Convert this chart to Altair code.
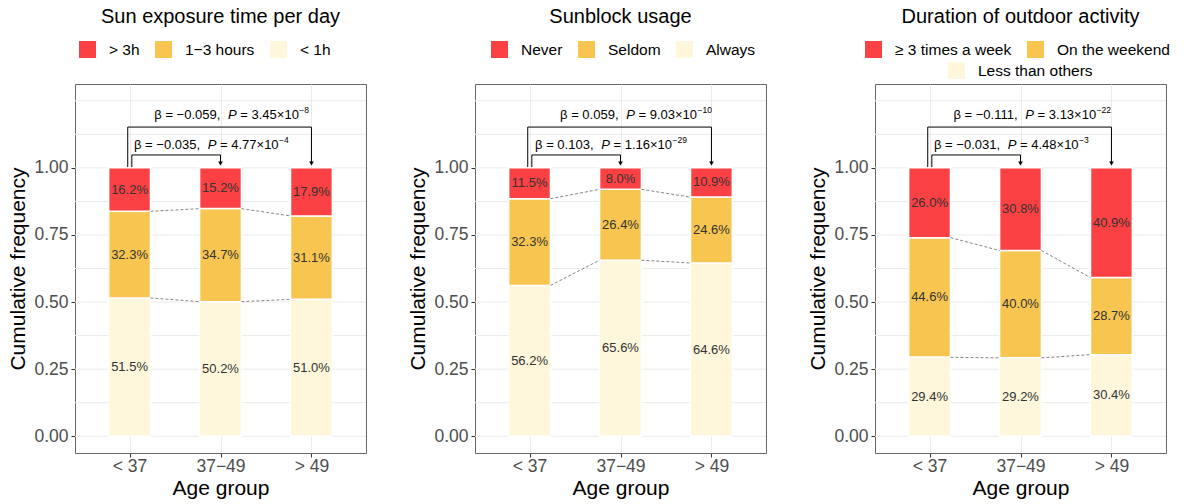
import json
import pandas as pd
import altair as alt

FONT = "Liberation Sans"

# ---------------- data ----------------
ages = ["< 37", "37−49", "> 49"]

sun_cats = ["> 3h", "1−3 hours", "< 1h"]
sun_high = [16.2, 15.2, 17.9]
sun_mid = [32.3, 34.7, 31.1]
sun_low = [51.5, 50.2, 51.0]

block_cats = ["Never", "Seldom", "Always"]
block_high = [11.5, 8.0, 10.9]
block_mid = [32.3, 26.4, 24.6]
block_low = [56.2, 65.6, 64.6]

act_cats = ["≥ 3 times a week", "On the weekend", "Less than others"]
act_high = [26.0, 30.8, 40.9]
act_mid = [44.6, 40.0, 28.7]
act_low = [29.4, 29.2, 30.4]

titles = ["Sun exposure time per day", "Sunblock usage", "Duration of outdoor activity"]

# (beta, P mantissa, P exponent) for: outer bracket (< 37 vs > 49), inner bracket (< 37 vs 37-49)
sun_tests = [("−0.059", "3.45", "−8"), ("−0.035", "4.77", "−4")]
block_tests = [("0.059", "9.03", "−10"), ("0.103", "1.16", "−29")]
act_tests = [("−0.111", "3.13", "−22"), ("−0.031", "4.48", "−3")]

colors = ["#FB4143", "#F8C550", "#FEF7DC"]

# ---------------- styling / layout constants ----------------
HALF_BAR = 0.23
XDOM = [-0.6, 2.6]
YDOM = [-0.0625, 1.3125]
W, H = 291, 369
PX_PER_UNIT = W / (XDOM[1] - XDOM[0])
GRID_Y = [i * 0.125 for i in range(11)]
ANN_SIZE = 13

# Arial / Liberation Sans advance widths (em) for the characters in the annotations
CHAR_W = {**{d: 0.556 for d in "0123456789"}, ".": 0.278, " ": 0.278, "=": 0.584, "×": 0.584, "−": 0.584}


def text_width(s, size):
    return sum(CHAR_W.get(c, 0.556) for c in s) * size


x_axis = alt.Axis(
    title="Age group", values=[0, 1, 2],
    labelExpr=json.dumps(ages) + "[datum.value]",
    grid=True, gridColor="#EBEBEB", gridWidth=1,
    domain=False, ticks=True, tickSize=4, tickColor="#333333",
    labelFontSize=17.5, labelColor="#4D4D4D", labelPadding=0, labelFont=FONT,
    titleFontSize=21, titleFontWeight="normal", titleColor="black", titlePadding=3, titleFont=FONT,
    labelFlush=False, labelOverlap=False,
)
y_axis = alt.Axis(
    title="Cumulative frequency", values=[0, 0.25, 0.5, 0.75, 1.0], format=".2f",
    grid=False, domain=False, ticks=True, tickSize=4, tickColor="#333333",
    labelFontSize=17.5, labelColor="#4D4D4D", labelPadding=3, labelFont=FONT,
    titleFontSize=21, titleFontWeight="normal", titleColor="black", titlePadding=5, titleFont=FONT,
)


def X(field):
    return alt.X(field, type="quantitative", scale=alt.Scale(domain=XDOM, nice=False, zero=False), axis=x_axis)


def Y(field):
    return alt.Y(field, type="quantitative", scale=alt.Scale(domain=YDOM, nice=False, zero=False), axis=y_axis)


def legend(n, lx, ly):
    return alt.Legend(
        orient="none", legendX=lx, legendY=ly, direction="horizontal", columns=n,
        title=None, symbolType="square", symbolSize=289, symbolStrokeWidth=0,
        labelFontSize=15.5, labelColor="black", labelFont=FONT, labelOffset=13,
        columnPadding=15, padding=0,
    )


def panel(title, cats, high, mid, low, tests, p_pos, split):
    rows = []
    bounds = []
    for i in range(len(ages)):
        tot = high[i] + mid[i] + low[i]
        base = 0.0
        for cat, v in [(cats[2], low[i]), (cats[1], mid[i]), (cats[0], high[i])]:
            rows.append(dict(idx=i, cat=cat, y0=base / tot, y1=(base + v) / tot,
                             ymid=(base + v / 2) / tot, label=f"{v:.1f}%"))
            base += v
        bounds.append((low[i] / tot, (low[i] + mid[i]) / tot))
    df = pd.DataFrame(rows)

    conn = []
    for i in range(len(ages) - 1):
        for k in range(2):
            conn.append(dict(xa=i + HALF_BAR, xb=i + 1 - HALF_BAR, ya=bounds[i][k], yb=bounds[i + 1][k]))
    conn = pd.DataFrame(conn)

    grid = alt.Chart(pd.DataFrame({"g": GRID_Y})).mark_rule(color="#EBEBEB", strokeWidth=1).encode(
        y=Y("g")
    )

    bar_base = alt.Chart(df).transform_calculate(
        xl=f"datum.idx - {HALF_BAR}", xr=f"datum.idx + {HALF_BAR}"
    ).mark_rect(stroke="white", strokeWidth=1.5)

    if split:
        bars_a = bar_base.transform_filter(alt.FieldOneOfPredicate(field="cat", oneOf=cats[:2])).encode(
            x=X("xl"), x2="xr:Q", y=Y("y0"), y2="y1:Q",
            color=alt.Color("cat:N", scale=alt.Scale(domain=cats[:2], range=colors[:2]),
                            legend=legend(2, -10, -43)),
        )
        bars_b = bar_base.transform_filter(alt.FieldEqualPredicate(field="cat", equal=cats[2])).encode(
            x=X("xl"), x2="xr:Q", y=Y("y0"), y2="y1:Q",
            fill=alt.Fill("cat:N", scale=alt.Scale(domain=cats[2:], range=colors[2:]),
                          legend=legend(1, 73, -22)),
        )
        bars = [bars_a, bars_b]
    else:
        lx = 4 if title == titles[0] else 16
        bars = [bar_base.encode(
            x=X("xl"), x2="xr:Q", y=Y("y0"), y2="y1:Q",
            color=alt.Color("cat:N", scale=alt.Scale(domain=cats, range=colors),
                            legend=legend(3, lx, -43)),
        )]

    labels = alt.Chart(df).mark_text(fontSize=13, color="#333333", font=FONT, baseline="middle").encode(
        x=X("idx"), y=Y("ymid"), text="label:N"
    )

    connectors = alt.Chart(conn).mark_rule(color="#666666", strokeWidth=0.8, strokeDash=[3, 2]).encode(
        x=X("xa"), x2="xb:Q", y=Y("ya"), y2="yb:Q"
    )

    # brackets: outer (< 37 -> > 49) and inner (< 37 -> 37-49)
    y_out, y_in, y_end = 1.152, 1.048, 1.02
    xo, xi = -0.02, 0.025
    br = pd.DataFrame([
        dict(xa=xo, xb=2, ya=y_out, yb=y_out),
        dict(xa=xo, xb=xo, ya=y_out, yb=1.003),
        dict(xa=2, xb=2, ya=y_out, yb=y_end),
        dict(xa=xi, xb=1, ya=y_in, yb=y_in),
        dict(xa=xi, xb=xi, ya=y_in, yb=1.003),
        dict(xa=1, xb=1, ya=y_in, yb=y_end),
    ])
    brackets = alt.Chart(br).mark_rule(color="black", strokeWidth=1).encode(
        x=X("xa"), x2="xb:Q", y=Y("ya"), y2="yb:Q"
    )
    heads = alt.Chart(pd.DataFrame({"hx": [1, 2], "hy": [1.016, 1.016]})).mark_point(
        shape="triangle-down", filled=True, size=22, color="black", opacity=1
    ).encode(x=X("hx"), y=Y("hy"))

    SUF_DX = 8
    ann_rows = []
    for (beta, mant, expo), px, py in zip(tests, p_pos, [1.197, 1.085]):
        suf = f"= {mant}×10"
        ex = px + (SUF_DX + text_width(suf, ANN_SIZE) + 0.5) / PX_PER_UNIT
        ann_rows.append(dict(px=px, py=py, pre=f"β = {beta},", suf=suf, p="P", ex=ex, expo=expo))
    ann = pd.DataFrame(ann_rows)
    tbase = alt.Chart(ann)
    common = dict(font=FONT, color="black", baseline="middle")
    pre = tbase.mark_text(fontSize=ANN_SIZE, align="right", dx=-12, **common).encode(
        x=X("px"), y=Y("py"), text="pre:N")
    pp = tbase.mark_text(fontSize=ANN_SIZE, align="center", fontStyle="italic", **common).encode(
        x=X("px"), y=Y("py"), text="p:N")
    suf = tbase.mark_text(fontSize=ANN_SIZE, align="left", dx=SUF_DX, **common).encode(
        x=X("px"), y=Y("py"), text="suf:N")
    sup = tbase.mark_text(fontSize=8.5, align="left", dy=-5, **common).encode(
        x=X("ex"), y=Y("py"), text="expo:N")

    layers = [grid] + bars + [connectors, labels, brackets, heads, pre, pp, suf, sup]
    return alt.layer(*layers).properties(
        width=W, height=H,
        title=alt.TitleParams(text=title, fontSize=20, font=FONT, fontWeight="normal",
                              color="black", anchor="middle", offset=14),
    ).resolve_scale(color="independent", fill="independent")


p1 = panel(titles[0], sun_cats, sun_high, sun_mid, sun_low, sun_tests, (1.13, 0.907), False)
p2 = panel(titles[1], block_cats, block_high, block_mid, block_low, block_tests, (1.11, 0.835), False)
p3 = panel(titles[2], act_cats, act_high, act_mid, act_low, act_tests, (1.10, 0.907), True)

chart = alt.hconcat(p1, p2, p3, spacing=40).resolve_scale(
    color="independent", fill="independent"
).resolve_legend(color="independent", fill="independent").configure_view(
    stroke="#666666", strokeWidth=1
).properties(
    padding={"left": 7, "top": 6, "right": 5, "bottom": 5}, background="white"
)

chart.save("out.html", embed_options={"renderer": "svg", "actions": False})
